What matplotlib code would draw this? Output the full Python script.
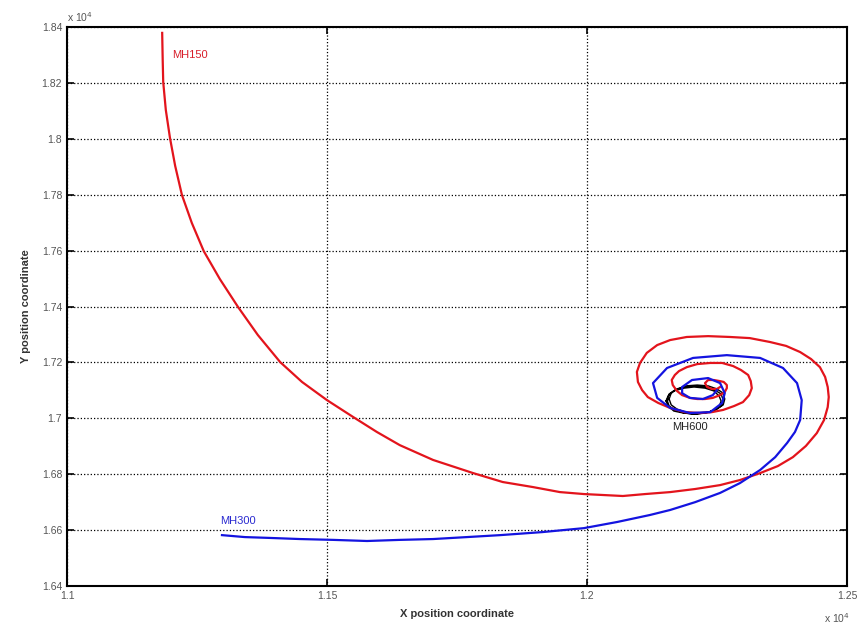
import numpy as np
import matplotlib.pyplot as plt
from matplotlib.ticker import FuncFormatter

plt.rcParams['font.family'] = ['Liberation Sans', 'DejaVu Sans']

# MH150 trajectory (red)
mh150_x = [11183, 11184, 11185, 11190, 11198, 11208, 11221, 11240, 11263, 11294,
           11329, 11367, 11410, 11452, 11500, 11550, 11596, 11640, 11704, 11781,
           11838, 11896, 11948, 11994, 12069, 12112, 12160, 12208, 12256, 12294,
           12333, 12367, 12396, 12421, 12442, 12456, 12463, 12465, 12463, 12458,
           12448, 12431, 12410, 12383, 12352, 12313, 12275, 12233, 12192, 12160,
           12135, 12115, 12102, 12096, 12098, 12106, 12117, 12137, 12160, 12188,
           12217, 12240, 12262, 12283, 12300, 12312, 12317, 12315, 12310, 12296,
           12281, 12260, 12237, 12212, 12192, 12177, 12169, 12163, 12165, 12173,
           12183, 12198, 12212, 12227, 12242, 12256, 12265, 12269, 12269, 12263,
           12256, 12244, 12233, 12227, 12231, 12240, 12250, 12256]
mh150_y = [18379, 18282, 18203, 18103, 18003, 17903, 17799, 17699, 17598, 17498,
           17398, 17298, 17201, 17130, 17065, 17005, 16951, 16904, 16851, 16804,
           16772, 16754, 16736, 16729, 16722, 16729, 16736, 16747, 16761, 16779,
           16804, 16829, 16861, 16901, 16947, 16994, 17040, 17076, 17112, 17148,
           17183, 17212, 17237, 17259, 17273, 17287, 17291, 17294, 17291, 17280,
           17262, 17234, 17198, 17166, 17130, 17101, 17076, 17055, 17037, 17022,
           17019, 17022, 17030, 17044, 17058, 17083, 17108, 17133, 17155, 17173,
           17187, 17198, 17198, 17194, 17183, 17169, 17155, 17137, 17119, 17098,
           17083, 17073, 17069, 17069, 17073, 17083, 17094, 17108, 17119, 17130,
           17133, 17137, 17137, 17126, 17112, 17105, 17105, 17112]

# MH300 trajectory (blue)
mh300_x = [11298, 11342, 11390, 11448, 11512, 11577, 11640, 11704, 11769, 11833,
           11915, 11994, 12058, 12121, 12160, 12208, 12256, 12294, 12333, 12362,
           12385, 12400, 12410, 12413, 12404, 12377, 12333, 12269, 12204, 12154,
           12127, 12135, 12160, 12198, 12237, 12260, 12265, 12256, 12233, 12202,
           12183, 12183, 12198, 12223, 12242, 12250]
mh300_y = [16582, 16575, 16572, 16568, 16565, 16561, 16565, 16568, 16575, 16582,
           16593, 16607, 16629, 16654, 16672, 16700, 16733, 16768, 16815, 16861,
           16912, 16951, 16994, 17065, 17126, 17180, 17216, 17226, 17216, 17180,
           17126, 17073, 17037, 17019, 17022, 17055, 17090, 17126, 17144, 17137,
           17112, 17090, 17073, 17069, 17083, 17101]

# MH600 trajectory (black), three overlapping loops
mh600_x = [12154, 12158, 12169, 12187, 12208, 12229, 12246, 12258, 12262, 12258,
           12246, 12229, 12208, 12187, 12169, 12158, 12154,
           12158, 12162, 12173, 12190, 12212, 12233, 12250, 12262, 12265, 12262,
           12250, 12233, 12212, 12190, 12173, 12162, 12158,
           12152, 12156, 12167, 12187, 12206, 12227, 12244, 12254, 12258, 12254,
           12242, 12225, 12206, 12185, 12167, 12156, 12152]
mh600_y = [17065, 17087, 17101, 17112, 17116, 17112, 17101, 17087, 17065, 17044,
           17030, 17019, 17015, 17019, 17030, 17044, 17065,
           17069, 17090, 17105, 17116, 17119, 17116, 17105, 17090, 17069, 17048,
           17033, 17022, 17019, 17022, 17033, 17048, 17069,
           17062, 17080, 17098, 17108, 17112, 17108, 17098, 17080, 17062, 17040,
           17026, 17019, 17015, 17019, 17026, 17044, 17062]

x_ticks = [11000, 11500, 12000, 12500]
y_ticks = [16400, 16600, 16800, 17000, 17200, 17400, 17600, 17800, 18000, 18200, 18400]

fig = plt.figure(figsize=(8.66, 6.24), dpi=100)
ax = fig.add_axes([0.0774, 0.0609, 0.9006, 0.8958])

ax.plot(mh600_x, mh600_y, color='black', lw=1.0, solid_joinstyle='round')
ax.plot(mh150_x, mh150_y, color='#e3141c', lw=1.6, solid_joinstyle='round')
ax.plot(mh300_x, mh300_y, color='#1414e0', lw=1.6, solid_joinstyle='round')

ax.text(11202, 18300, 'MH150', color='#d81e2a', fontsize=8, va='center')
ax.text(11294, 16633, 'MH300', color='#2a2ad0', fontsize=8, va='center')
ax.text(12163, 16969, 'MH600', color='#222222', fontsize=8, va='center')

ax.set_xlim(11000, 12500)
ax.set_ylim(16400, 18400)
ax.set_xticks(x_ticks)
ax.set_yticks(y_ticks)
fmt = FuncFormatter(lambda v, p: '%g' % (v / 1e4))
ax.xaxis.set_major_formatter(fmt)
ax.yaxis.set_major_formatter(fmt)
ax.tick_params(direction='in', top=True, right=True, length=5, width=1.2,
               labelsize=7.5, labelcolor='#555555')
ax.grid(True, linestyle=':', color='black', lw=0.9)
for s in ax.spines.values():
    s.set_linewidth(1.5)

ax.set_xlabel('X position coordinate', fontsize=8, fontweight='bold', color='#333333', labelpad=6)
ax.set_ylabel('Y position coordinate', fontsize=8, fontweight='bold', color='#333333', labelpad=8)

ax.text(0.0, 1.005, r'x 10$^4$', transform=ax.transAxes, fontsize=7.5, color='#555555', va='bottom')
ax.text(0.97, -0.045, r'x 10$^4$', transform=ax.transAxes, fontsize=7.5, color='#555555', va='top')

fig.savefig('out.png', dpi=100)
